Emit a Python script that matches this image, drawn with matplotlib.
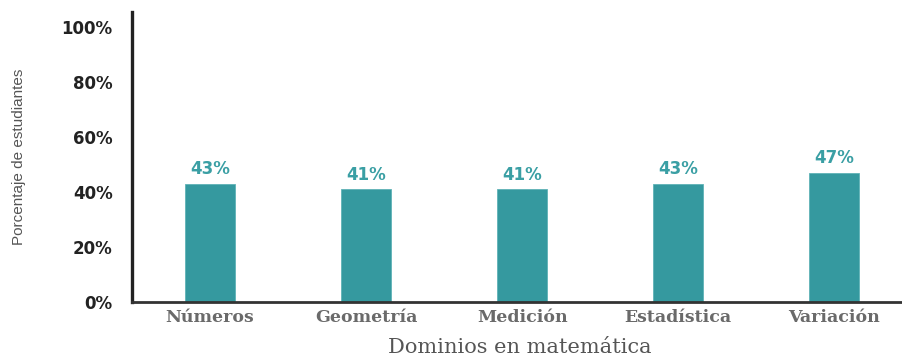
import matplotlib
matplotlib.use("Agg")
import matplotlib.pyplot as plt
from matplotlib.ticker import FixedLocator, FuncFormatter

# Share of students by mathematics domain
dominios = ["Números", "Geometría", "Medición", "Estadística", "Variación"]
porcentajes = [43, 41, 41, 43, 47]
ticks_y = [0, 20, 40, 60, 80, 100]

teal = "#35999f"
teal_text = "#3a9fa4"

fig = plt.figure(figsize=(9.03, 3.6), dpi=100)
ax = fig.add_axes([0.1462, 0.1611, 0.8538, 0.8056])

x = range(len(dominios))
bars = ax.bar(x, porcentajes, width=0.32, color=teal, edgecolor="#5fb3b7", linewidth=0.6)

for xi, v in zip(x, porcentajes):
    ax.annotate(f"{v}%", (xi, v), xytext=(0, 4), textcoords="offset points",
                ha="center", va="bottom", fontsize=12, fontweight="bold",
                color=teal_text, family="DejaVu Sans")

ax.set_xlim(-0.5, 4.44)
ax.set_ylim(0, 105.5)

ax.yaxis.set_major_locator(FixedLocator(ticks_y))
ax.yaxis.set_major_formatter(FuncFormatter(lambda v, p: f"{int(v)}%"))
ax.set_xticks(list(x))
ax.set_xticklabels(dominios)

for lab in ax.get_yticklabels():
    lab.set_fontsize(12)
    lab.set_fontweight("bold")
    lab.set_color("#222222")
    lab.set_family("DejaVu Sans")
for lab in ax.get_xticklabels():
    lab.set_fontsize(12.5)
    lab.set_fontweight("bold")
    lab.set_color("#6a6a6a")
    lab.set_family("DejaVu Serif")

ax.tick_params(axis="y", length=0, pad=14)
ax.tick_params(axis="x", length=0, pad=5)

for side in ("top", "right"):
    ax.spines[side].set_visible(False)
ax.spines["left"].set_linewidth(2.4)
ax.spines["bottom"].set_linewidth(2)
ax.spines["left"].set_color("#222222")
ax.spines["bottom"].set_color("#333333")

ax.set_ylabel("Porcentaje de estudiantes", fontsize=11, color="#555555",
              family="Liberation Sans")
ax.yaxis.set_label_coords(-0.137, 0.5)
fig.text(0.576, 0.036, "Dominios en matemática", ha="center", va="center",
         fontsize=15, color="#555555", family="DejaVu Serif")

fig.savefig("out.png", dpi=100)
